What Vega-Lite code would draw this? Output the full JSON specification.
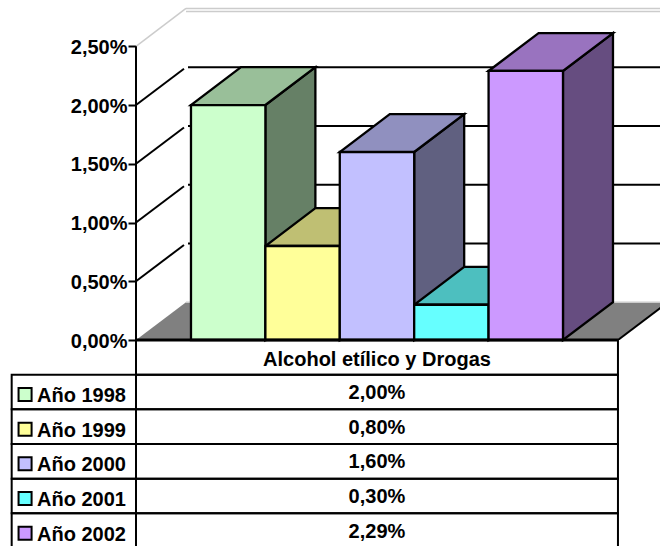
{
"$schema":"https://vega.github.io/schema/vega-lite/v6.json",
"padding":0,"spacing":0,"bounds":"flush",
"config":{"view":{"stroke":null},"text":{"font":"Liberation Sans"},"axis":{"labelFont":"Liberation Sans"}},
"datasets":{
"bars":[{"serie":"Año 1998","value":0.02},{"serie":"Año 1999","value":0.008},{"serie":"Año 2000","value":0.016},{"serie":"Año 2001","value":0.003},{"serie":"Año 2002","value":0.0229}],
"levels":[{"level":0},{"level":0.005},{"level":0.01},{"level":0.015},{"level":0.02},{"level":0.025}],
"cat":[{"categoria":"Alcohol etílico y Drogas"}],
"edge":[{"t":0},{"t":1}]
},
"vconcat":[
{"width":660,"height":340,
"resolve":{"scale":{"color":"independent"}},
"layer":[
{"data":{"name":"edge"},
 "transform":[{"calculate":"-0.739+datum.t*0.672","as":"xa"},{"calculate":"5.739+datum.t*0.672","as":"xb"},{"calculate":"datum.t*0.00322","as":"ya"}],
 "mark":{"type":"area","orient":"horizontal","color":"#808080","clip":true},
 "encoding":{"x":{"field":"xa","type":"quantitative","axis":null,"scale":{"domain":[-2.567,6.304],"nice":false,"zero":false}},"x2":{"field":"xb"},
 "y":{"field":"ya","type":"quantitative","scale":{"domain":[0,0.02894],"nice":false,"zero":false},
 "axis":{"values":[0,0.005,0.01,0.015,0.02,0.025],"offset":-136,"domain":false,"grid":false,"title":null,"tickSize":8,"tickWidth":2,"tickColor":"#000","labelFontSize":20,"labelFontWeight":"bold","labelColor":"#000","labelPadding":1,"labelOffset":1,"labelExpr":"replace(format(datum.value,'.2%'),'.',',')"}}}},
{"data":{"name":"levels"},"transform":[{"filter":"datum.level>0 && datum.level<0.025"},{"calculate":"[0,1]","as":"t"},{"flatten":["t"]},{"calculate":"-0.739+datum.t*0.645","as":"xa"},{"calculate":"datum.level+datum.t*0.00309","as":"ya"}],
 "mark":{"type":"line","color":"#000","strokeWidth":2},
 "encoding":{"x":{"field":"xa","type":"quantitative","axis":null},"y":{"field":"ya","type":"quantitative","title":null},"detail":{"field":"level"}}},
{"data":{"name":"levels"},"transform":[{"filter":"datum.level>0 && datum.level<0.025"},{"calculate":"datum.level+0.00322","as":"ya"},{"calculate":"-0.04","as":"xa"},{"calculate":"6.41","as":"xb"}],
 "mark":{"type":"rule","color":"#000","strokeWidth":2,"clip":true},
 "encoding":{"x":{"field":"xa","type":"quantitative","axis":null},"x2":{"field":"xb"},"y":{"field":"ya","type":"quantitative","title":null}}},
{"data":{"name":"levels"},"transform":[{"filter":"datum.level==0.025"},{"calculate":"[0,1]","as":"t"},{"flatten":["t"]},{"calculate":"-0.739+datum.t*0.672","as":"xa"},{"calculate":"datum.level+datum.t*0.00322","as":"ya"}],
 "mark":{"type":"line","color":"#cccccc","strokeWidth":1.5},
 "encoding":{"x":{"field":"xa","type":"quantitative","axis":null},"y":{"field":"ya","type":"quantitative","title":null}}},
{"data":{"name":"levels"},"transform":[{"filter":"datum.level==0.025||datum.level==0"},{"calculate":"datum.level+0.00322","as":"ya"},{"calculate":"-0.067","as":"xa"},{"calculate":"6.41","as":"xb"}],
 "mark":{"type":"rule","color":"#cccccc","strokeWidth":1.5,"clip":true},
 "encoding":{"x":{"field":"xa","type":"quantitative","axis":null},"x2":{"field":"xb"},"y":{"field":"ya","type":"quantitative","title":null}}},
{"data":{"name":"levels"},"transform":[{"filter":"datum.level==0.025"},{"calculate":"datum.level+0.00322-0.00025","as":"ya"},{"calculate":"-0.067","as":"xa"},{"calculate":"6.41","as":"xb"}],
 "mark":{"type":"rule","color":"#cccccc","strokeWidth":1.5,"clip":true},
 "encoding":{"x":{"field":"xa","type":"quantitative","axis":null},"x2":{"field":"xb"},"y":{"field":"ya","type":"quantitative","title":null}}},
{"data":{"name":"edge"},"transform":[{"calculate":"5.739+datum.t*0.672","as":"xa"},{"calculate":"datum.t*0.00322","as":"ya"}],
 "mark":{"type":"line","color":"#000","strokeWidth":2,"clip":true},
 "encoding":{"x":{"field":"xa","type":"quantitative","axis":null},"y":{"field":"ya","type":"quantitative","title":null}}},
{"data":{"name":"levels"},"transform":[{"filter":"datum.level==0"},{"calculate":"-0.739","as":"xa"},{"calculate":"0.025","as":"yb"}],
 "mark":{"type":"rule","color":"#000","strokeWidth":2},
 "encoding":{"x":{"field":"xa","type":"quantitative","axis":null},"y":{"field":"level","type":"quantitative","title":null},"y2":{"field":"yb"}}},
{"data":{"name":"bars"},"transform":[{"window":[{"op":"row_number","as":"n"}]},{"calculate":"[0,1]","as":"t"},{"flatten":["t"]},{"calculate":"datum.n+datum.t*0.672","as":"xa"},{"calculate":"datum.value+datum.t*0.00322","as":"ya"},{"calculate":"datum.t*0.00322","as":"yb"}],
 "mark":{"type":"area","stroke":"#000","strokeWidth":2.3,"strokeJoin":"miter"},
 "encoding":{"x":{"field":"xa","type":"quantitative","axis":null},"y":{"field":"ya","type":"quantitative","title":null},"y2":{"field":"yb"},
 "color":{"field":"serie","type":"nominal","legend":null,"scale":{"domain":["Año 1998","Año 1999","Año 2000","Año 2001","Año 2002"],"range":["#668066","#808050","#606080","#338080","#664d80"]}}}},
{"data":{"name":"bars"},"transform":[{"window":[{"op":"row_number","as":"n"}]},{"calculate":"[0,1]","as":"t"},{"flatten":["t"]},{"calculate":"datum.n-1+datum.t*0.672","as":"xa"},{"calculate":"datum.n+datum.t*0.672","as":"xb"},{"calculate":"datum.value+datum.t*0.00322","as":"ya"}],
 "mark":{"type":"area","orient":"horizontal","stroke":"#000","strokeWidth":2.3,"strokeJoin":"miter"},
 "encoding":{"x":{"field":"xa","type":"quantitative","axis":null},"x2":{"field":"xb"},"y":{"field":"ya","type":"quantitative","title":null},
 "color":{"field":"serie","type":"nominal","legend":null,"scale":{"domain":["Año 1998","Año 1999","Año 2000","Año 2001","Año 2002"],"range":["#99bf99","#bfbf73","#9090bf","#4dbfbf","#9973bf"]}}}},
{"data":{"name":"bars"},"transform":[{"window":[{"op":"row_number","as":"n"}]},{"calculate":"datum.n-1","as":"xa"},{"calculate":"0","as":"yb"}],
 "mark":{"type":"rect","stroke":"#000","strokeWidth":2.3},
 "encoding":{"x":{"field":"xa","type":"quantitative","axis":null},"x2":{"field":"n"},"y":{"field":"value","type":"quantitative","title":null},"y2":{"field":"yb"},
 "color":{"field":"serie","type":"nominal","legend":null,"scale":{"domain":["Año 1998","Año 1999","Año 2000","Año 2001","Año 2002"],"range":["#ccffcc","#ffff99","#c2c0ff","#66ffff","#cc99ff"]}}}}
]},
{"width":660,"height":206,
"resolve":{"scale":{"color":"independent"}},
"layer":[
{"data":{"name":"cat"},"transform":[{"calculate":"-0.739","as":"xa"},{"calculate":"5.739","as":"xb"}],
 "mark":{"type":"rect","fill":null,"stroke":"#000","strokeWidth":2,"clip":true},
 "encoding":{"x":{"field":"xa","type":"quantitative","axis":null,"scale":{"domain":[-2.567,6.304],"nice":false,"zero":false}},"x2":{"field":"xb"},
 "y":{"field":"categoria","type":"nominal","axis":null,"scale":{"domain":["Alcohol etílico y Drogas","Año 1998","Año 1999","Año 2000","Año 2001","Año 2002"],"range":[0,208],"paddingInner":0,"paddingOuter":0}}}},
{"data":{"name":"bars"},"transform":[{"calculate":"-2.41","as":"xa"},{"calculate":"-0.739","as":"xb"}],
 "mark":{"type":"rect","fill":null,"stroke":"#000","strokeWidth":2,"clip":true},
 "encoding":{"x":{"field":"xa","type":"quantitative","axis":null},"x2":{"field":"xb"},"y":{"field":"serie","type":"nominal","axis":null}}},
{"data":{"name":"bars"},"transform":[{"calculate":"-0.739","as":"xa"},{"calculate":"5.739","as":"xb"}],
 "mark":{"type":"rect","fill":null,"stroke":"#000","strokeWidth":2,"clip":true},
 "encoding":{"x":{"field":"xa","type":"quantitative","axis":null},"x2":{"field":"xb"},"y":{"field":"serie","type":"nominal","axis":null}}},
{"data":{"name":"cat"},"transform":[{"calculate":"-0.739","as":"xa"},{"calculate":"5.739","as":"xb"}],
 "mark":{"type":"rule","color":"#000","strokeWidth":3},
 "encoding":{"x":{"field":"xa","type":"quantitative","axis":null},"x2":{"field":"xb"},"y":{"field":"categoria","type":"nominal","axis":null,"bandPosition":0}}},
{"data":{"name":"cat"},"transform":[{"calculate":"2.5","as":"xa"}],
 "mark":{"type":"text","fontSize":20,"fontWeight":"bold","color":"#000","dy":3},
 "encoding":{"x":{"field":"xa","type":"quantitative","axis":null},"y":{"field":"categoria","type":"nominal","axis":null},"text":{"field":"categoria"}}},
{"data":{"name":"bars"},"transform":[{"calculate":"2.5","as":"xa"},{"calculate":"replace(format(datum.value,'.2%'),'.',',')","as":"label"}],
 "mark":{"type":"text","fontSize":20,"fontWeight":"bold","color":"#000","dy":1},
 "encoding":{"x":{"field":"xa","type":"quantitative","axis":null},"y":{"field":"serie","type":"nominal","axis":null},"text":{"field":"label"}}},
{"data":{"name":"bars"},"transform":[{"calculate":"-2.23","as":"xa"}],
 "mark":{"type":"point","shape":"square","filled":true,"size":170,"stroke":"#000","strokeWidth":2,"opacity":1,"yOffset":2.5},
 "encoding":{"x":{"field":"xa","type":"quantitative","axis":null},"y":{"field":"serie","type":"nominal","axis":null},
 "color":{"field":"serie","type":"nominal","legend":null,"scale":{"domain":["Año 1998","Año 1999","Año 2000","Año 2001","Año 2002"],"range":["#ccffcc","#ffff99","#c2c0ff","#66ffff","#cc99ff"]}}}},
{"data":{"name":"bars"},"transform":[{"calculate":"-2.07","as":"xa"}],
 "mark":{"type":"text","align":"left","fontSize":20,"fontWeight":"bold","color":"#000","dy":4},
 "encoding":{"x":{"field":"xa","type":"quantitative","axis":null},"y":{"field":"serie","type":"nominal","axis":null},"text":{"field":"serie"}}}
]}
]
}
